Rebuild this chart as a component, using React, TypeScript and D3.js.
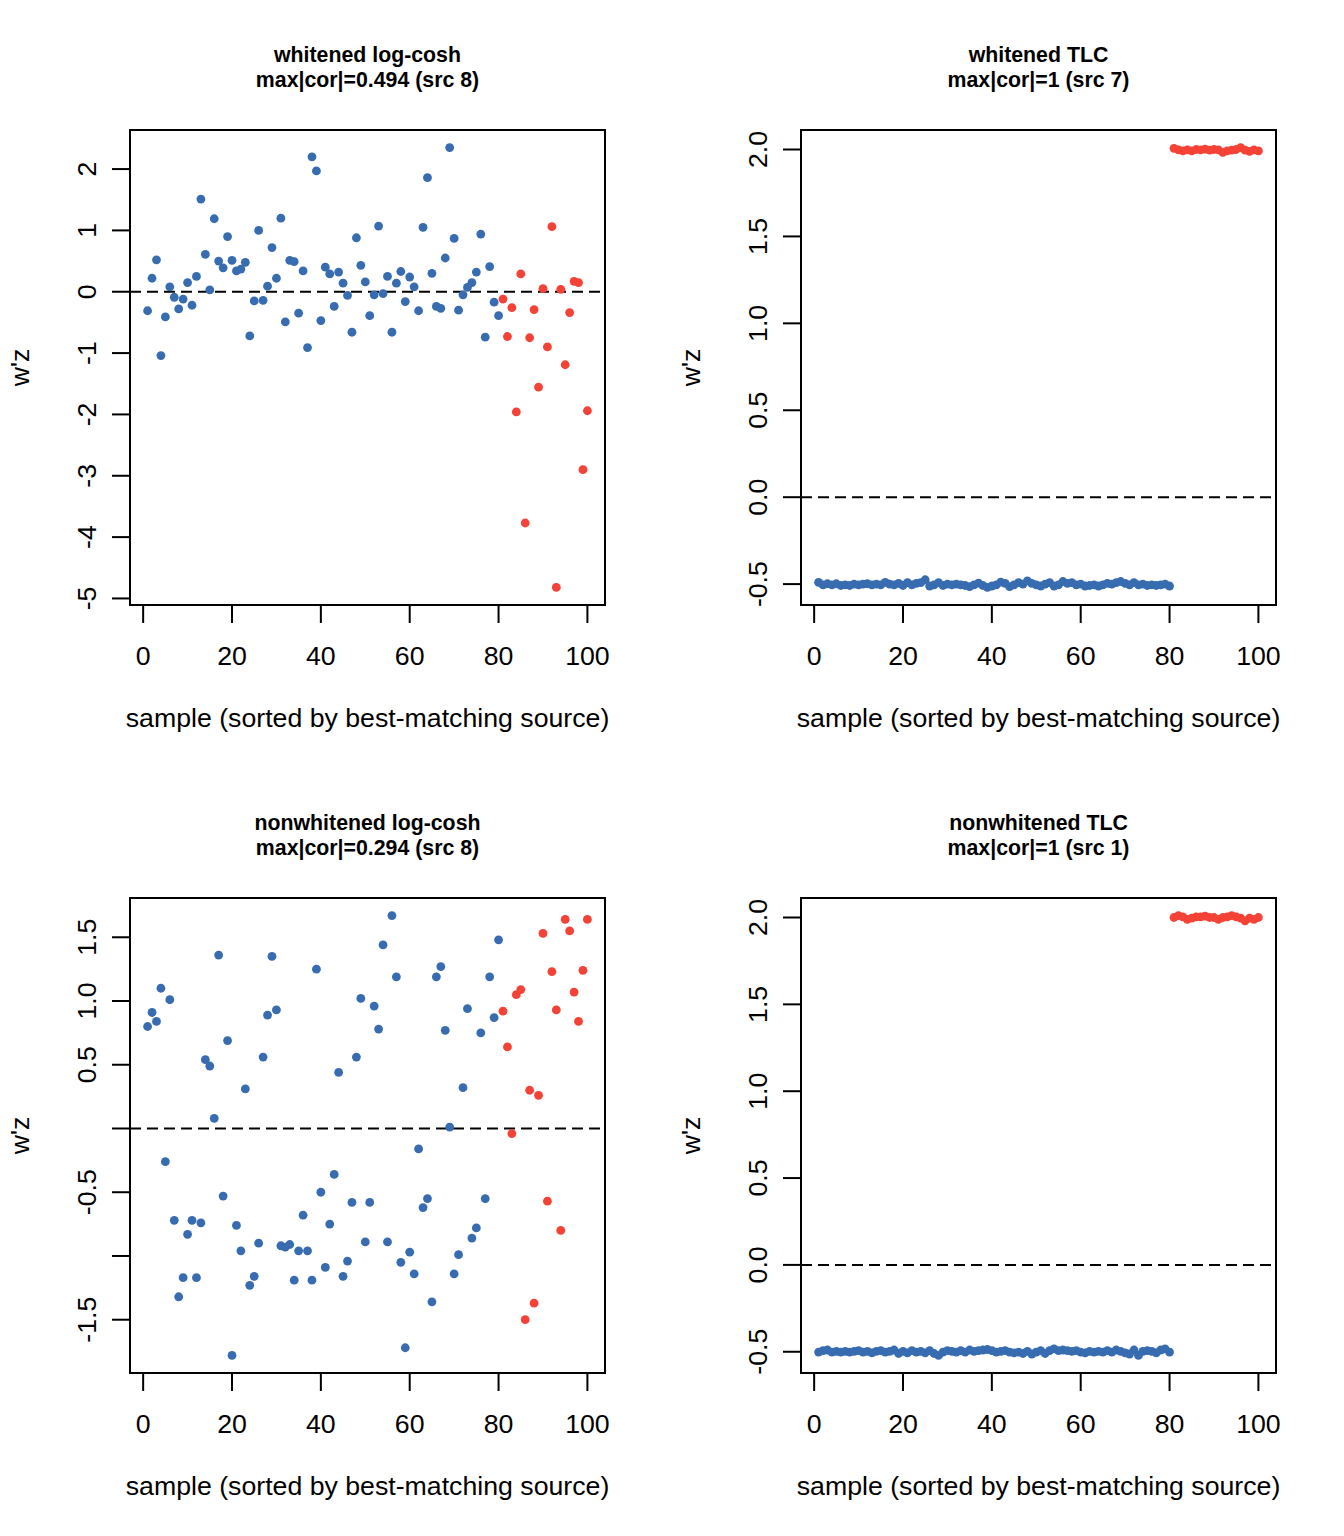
import { useEffect } from 'react';
import * as d3 from 'd3';

// samples 1..80 belong to the best-matching source, 81..100 to the rest
const N_MATCHED = 80;
const SAMPLE_IDS = d3.range(1, 101);

const WHITENED_LOGCOSH = [
  -0.31, 0.22, 0.52, -1.04, -0.41, 0.08, -0.09, -0.28, -0.12, 0.15,
  -0.22, 0.25, 1.51, 0.61, 0.03, 1.19, 0.5, 0.39, 0.9, 0.51,
  0.34, 0.37, 0.48, -0.72, -0.15, 1.0, -0.14, 0.09, 0.72, 0.22,
  1.2, -0.49, 0.51, 0.49, -0.35, 0.34, -0.91, 2.2, 1.97, -0.47,
  0.4, 0.29, -0.24, 0.32, 0.14, -0.06, -0.66, 0.88, 0.43, 0.16,
  -0.39, -0.05, 1.07, -0.03, 0.25, -0.66, 0.14, 0.33, -0.16, 0.24,
  0.08, -0.31, 1.05, 1.86, 0.3, -0.24, -0.27, 0.55, 2.35, 0.87,
  -0.3, -0.05, 0.07, 0.15, 0.32, 0.94, -0.74, 0.41, -0.17, -0.39,
  -0.12, -0.73, -0.26, -1.96, 0.29, -3.77, -0.75, -0.29, -1.555, 0.05,
  -0.9, 1.06, -4.82, 0.04, -1.19, -0.34, 0.17, 0.15, -2.9, -1.94,
];

const WHITENED_TLC = [
  -0.49, -0.504, -0.498, -0.504, -0.498, -0.508, -0.504, -0.508, -0.5, -0.504,
  -0.5, -0.498, -0.504, -0.5, -0.504, -0.49, -0.5, -0.504, -0.496, -0.508,
  -0.492, -0.504, -0.496, -0.492, -0.475, -0.511, -0.504, -0.492, -0.508, -0.5,
  -0.504, -0.5, -0.504, -0.508, -0.515, -0.504, -0.494, -0.508, -0.519, -0.511,
  -0.504, -0.489, -0.496, -0.515, -0.504, -0.492, -0.5, -0.481, -0.496, -0.504,
  -0.511, -0.5, -0.492, -0.511, -0.504, -0.485, -0.496, -0.492, -0.504, -0.5,
  -0.511, -0.508, -0.504, -0.511, -0.504, -0.496, -0.5, -0.492, -0.485, -0.496,
  -0.504, -0.492, -0.504, -0.5, -0.508, -0.504, -0.508, -0.504, -0.5, -0.511,
  2.006, 1.998, 1.992, 1.998, 1.992, 2.0, 1.998, 2.002, 1.996, 2.0,
  1.998, 1.983, 1.992, 1.996, 2.0, 2.011, 1.996, 1.989, 1.998, 1.992,
];

const NONWHITENED_LOGCOSH = [
  0.8, 0.91, 0.84, 1.1, -0.26, 1.01, -0.72, -1.32, -1.17, -0.83,
  -0.72, -1.17, -0.74, 0.54, 0.49, 0.08, 1.36, -0.53, 0.69, -1.78,
  -0.76, -0.96, 0.31, -1.23, -1.16, -0.9, 0.56, 0.89, 1.35, 0.93,
  -0.92, -0.93, -0.91, -1.19, -0.96, -0.68, -0.96, -1.19, 1.25, -0.5,
  -1.09, -0.75, -0.36, 0.44, -1.16, -1.04, -0.58, 0.56, 1.02, -0.89,
  -0.58, 0.96, 0.78, 1.44, -0.89, 1.67, 1.19, -1.05, -1.72, -0.97,
  -1.14, -0.16, -0.62, -0.55, -1.36, 1.19, 1.27, 0.77, 0.01, -1.14,
  -0.99, 0.32, 0.94, -0.86, -0.78, 0.75, -0.55, 1.19, 0.87, 1.48,
  0.92, 0.64, -0.04, 1.05, 1.09, -1.5, 0.3, -1.37, 0.26, 1.53,
  -0.57, 1.23, 0.93, -0.8, 1.64, 1.55, 1.07, 0.84, 1.24, 1.64,
];

const NONWHITENED_TLC = [
  -0.502, -0.494, -0.49, -0.502, -0.498, -0.502, -0.498, -0.502, -0.498, -0.494,
  -0.502, -0.498, -0.506, -0.498, -0.494, -0.502, -0.498, -0.49, -0.51, -0.498,
  -0.506, -0.494, -0.502, -0.498, -0.506, -0.494, -0.51, -0.521, -0.502, -0.494,
  -0.498, -0.502, -0.494, -0.502, -0.49, -0.498, -0.494, -0.49, -0.487, -0.494,
  -0.502, -0.498, -0.494, -0.502, -0.506, -0.502, -0.51, -0.498, -0.513, -0.502,
  -0.494, -0.51, -0.494, -0.483, -0.494, -0.49, -0.494, -0.498, -0.494, -0.502,
  -0.506, -0.498, -0.502, -0.498, -0.502, -0.494, -0.502, -0.49, -0.498, -0.506,
  -0.513, -0.49, -0.521, -0.498, -0.494, -0.498, -0.506, -0.49, -0.483, -0.502,
  2.0, 2.011, 2.004, 1.989, 1.996, 2.004, 2.004, 2.008, 2.0, 2.0,
  1.989, 2.0, 2.004, 2.011, 2.004, 1.996, 1.981, 1.996, 1.989, 2.0,
];

const X_TICKS = [0, 20, 40, 60, 80, 100];
const TICKS_LOGCOSH_W = [-5, -4, -3, -2, -1, 0, 1, 2];
const TICKS_TLC = [-0.5, 0, 0.5, 1, 1.5, 2];
const TICKS_LOGCOSH_NW = [-1.5, -1, -0.5, 0, 0.5, 1, 1.5];
// R drops tick labels that would overlap
const SKIPPED_LOGCOSH_NW = [-1, 0];

const PANELS = [
  { title: 'whitened log-cosh', sub: 'max|cor|=0.494 (src 8)', values: WHITENED_LOGCOSH, ticks: TICKS_LOGCOSH_W, fmt: d3.format('d'), skip: [] as number[] },
  { title: 'whitened TLC', sub: 'max|cor|=1 (src 7)', values: WHITENED_TLC, ticks: TICKS_TLC, fmt: d3.format('.1f'), skip: [] as number[] },
  { title: 'nonwhitened log-cosh', sub: 'max|cor|=0.294 (src 8)', values: NONWHITENED_LOGCOSH, ticks: TICKS_LOGCOSH_NW, fmt: d3.format('.1f'), skip: SKIPPED_LOGCOSH_NW },
  { title: 'nonwhitened TLC', sub: 'max|cor|=1 (src 1)', values: NONWHITENED_TLC, ticks: TICKS_TLC, fmt: d3.format('.1f'), skip: [] as number[] },
];

const BLUE = '#386CB0';
const RED = '#F44336';
const FONT = '"Liberation Sans", Arial, Helvetica, sans-serif';

const W = 1344;
const H = 1536;
const SIZE = 475;
const COL_X = [130, 801];
const ROW_Y = [130, 898];

// R style: extend data range by 4% each side
const padded = (vals: number[]) => {
  const [lo, hi] = d3.extent(vals) as [number, number];
  const p = (hi - lo) * 0.04;
  return [lo - p, hi + p];
};

const fmtMinus = (s: string) => s.replace('−', '-');

const Panel = ({ p, left, top }: { p: (typeof PANELS)[number]; left: number; top: number }) => {
  const x = d3.scaleLinear().domain(padded(SAMPLE_IDS)).range([0, SIZE]);
  const y = d3.scaleLinear().domain(padded(p.values)).range([SIZE, 0]);
  const tick = 18;

  return (
    <g transform={`translate(${left},${top})`} fontFamily={FONT}>
      <text x={SIZE / 2} y={-68} textAnchor="middle" fontSize={21.3} fontWeight="bold">
        {p.title}
      </text>
      <text x={SIZE / 2} y={-43} textAnchor="middle" fontSize={21.3} fontWeight="bold">
        {p.sub}
      </text>

      <line x1={0} x2={SIZE} y1={y(0)} y2={y(0)} stroke="#000" strokeWidth={2} strokeDasharray="11,6" />

      {p.values.map((v, i) => (
        <circle
          key={i}
          cx={x(SAMPLE_IDS[i])}
          cy={y(v)}
          r={4.4}
          fill={SAMPLE_IDS[i] <= N_MATCHED ? BLUE : RED}
        />
      ))}

      <rect x={0} y={0} width={SIZE} height={SIZE} fill="none" stroke="#000" strokeWidth={2} />

      {/* x axis */}
      <line
        x1={x(X_TICKS[0])}
        x2={x(X_TICKS[X_TICKS.length - 1])}
        y1={SIZE}
        y2={SIZE}
        stroke="#000"
        strokeWidth={2}
      />
      {X_TICKS.map((t) => (
        <g key={t}>
          <line x1={x(t)} x2={x(t)} y1={SIZE} y2={SIZE + tick} stroke="#000" strokeWidth={2} />
          <text x={x(t)} y={SIZE + 60} textAnchor="middle" fontSize={26.7}>
            {t}
          </text>
        </g>
      ))}
      <text x={SIZE / 2} y={SIZE + 122} textAnchor="middle" fontSize={26.7}>
        sample (sorted by best-matching source)
      </text>

      {/* y axis */}
      <line
        x1={0}
        x2={0}
        y1={y(p.ticks[0])}
        y2={y(p.ticks[p.ticks.length - 1])}
        stroke="#000"
        strokeWidth={2}
      />
      {p.ticks.map((t) => (
        <g key={t}>
          <line x1={0} x2={-tick} y1={y(t)} y2={y(t)} stroke="#000" strokeWidth={2} />
          {!p.skip.includes(t) && (
            <text
              transform={`translate(${-34},${y(t)}) rotate(-90)`}
              textAnchor="middle"
              fontSize={26.7}
            >
              {fmtMinus(p.fmt(t))}
            </text>
          )}
        </g>
      ))}
      <text transform={`translate(${-101},${SIZE / 2}) rotate(-90)`} textAnchor="middle" fontSize={26.7}>
        w'z
      </text>
    </g>
  );
};

export default function App() {
  useEffect(() => {
    document.body.style.margin = '0';
  }, []);

  return (
    <svg width={W} height={H} style={{ display: 'block', background: '#fff' }}>
      <rect width={W} height={H} fill="#fff" />
      {PANELS.map((p, i) => (
        <Panel key={p.title} p={p} left={COL_X[i % 2]} top={ROW_Y[Math.floor(i / 2)]} />
      ))}
    </svg>
  );
}
